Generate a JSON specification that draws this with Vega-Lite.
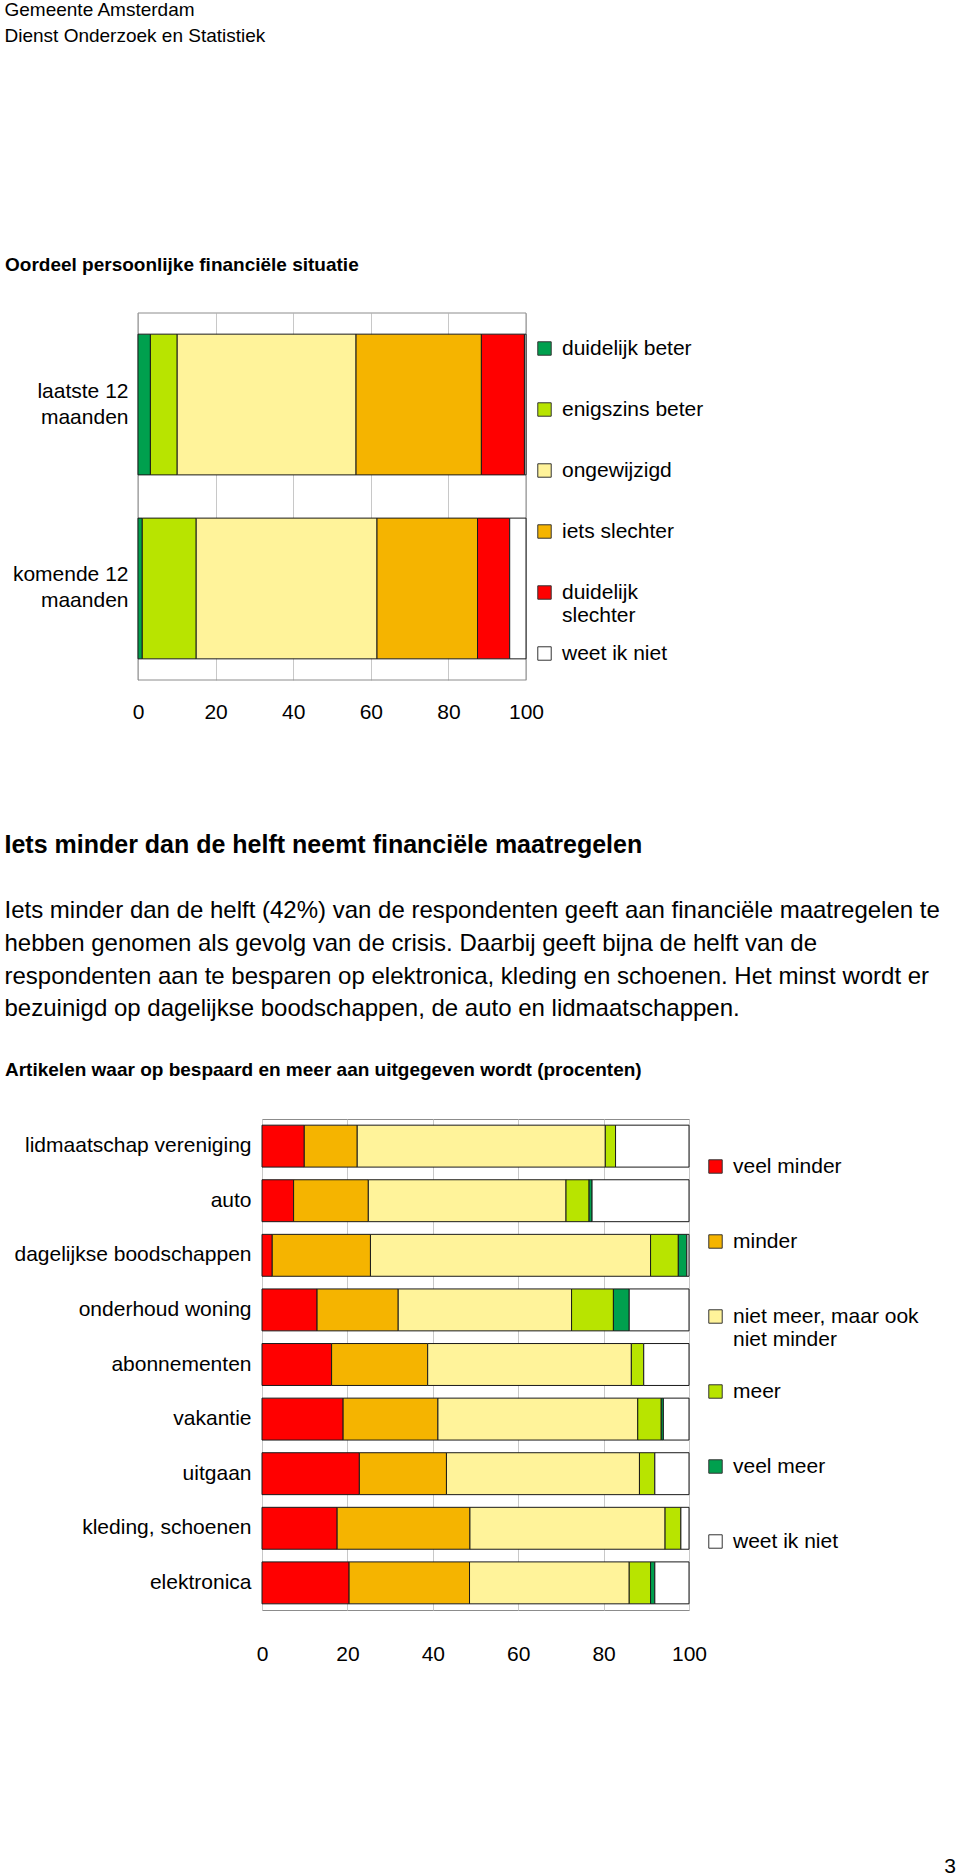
{
  "$schema": "https://vega.github.io/schema/vega-lite/v6.json",
  "padding": {"left": 4, "top": 0, "right": 0, "bottom": 0},
  "background": "white",
  "config": {
    "font": "Liberation Sans",
    "view": {"stroke": "#8c8c8c", "strokeWidth": 1},
    "axis": {"labelFont": "Liberation Sans", "labelFontSize": 21, "labelColor": "#000000", "ticks": false, "domain": false, "gridColor": "#c8c8c8", "gridWidth": 1, "title": null, "labelFlush": false, "labelOverlap": false},
    "legend": {"orient": "none", "title": null, "labelFont": "Liberation Sans", "labelFontSize": 21, "labelColor": "#000000", "symbolType": "square", "symbolSize": 180, "symbolStrokeColor": "#333333", "symbolStrokeWidth": 1, "labelOffset": 7, "padding": 0, "labelLimit": 400, "gridAlign": "all"},
    "title": {"anchor": "start", "font": "Liberation Sans", "color": "#000000", "frame": "bounds"},
    "concat": {"spacing": 0}
  },
  "title": {"text": ["Gemeente Amsterdam", "Dienst Onderzoek en Statistiek"], "fontSize": 19, "fontWeight": "normal", "lineHeight": 26, "offset": 210},
  "resolve": {"scale": {"color": "independent", "x": "independent", "y": "independent"}, "legend": {"color": "independent"}},
  "columns": 1,
  "spacing": {"row": 111, "column": 0},
  "concat": [
    {
      "title": {"text": "Oordeel persoonlijke financiële situatie", "fontSize": 19, "fontWeight": "bold", "offset": 38},
      "width": 264,
      "height": 367,
      "view": {"stroke": null},
      "data": {"values": [
        {"periode": "laatste 12 maanden", "oordeel": "duidelijk beter", "pct": 3.2},
        {"periode": "laatste 12 maanden", "oordeel": "enigszins beter", "pct": 6.9},
        {"periode": "laatste 12 maanden", "oordeel": "ongewijzigd", "pct": 46.1},
        {"periode": "laatste 12 maanden", "oordeel": "iets slechter", "pct": 32.3},
        {"periode": "laatste 12 maanden", "oordeel": "duidelijk slechter", "pct": 11.1},
        {"periode": "laatste 12 maanden", "oordeel": "weet ik niet", "pct": 0.4},
        {"periode": "komende 12 maanden", "oordeel": "duidelijk beter", "pct": 1.1},
        {"periode": "komende 12 maanden", "oordeel": "enigszins beter", "pct": 13.9},
        {"periode": "komende 12 maanden", "oordeel": "ongewijzigd", "pct": 46.6},
        {"periode": "komende 12 maanden", "oordeel": "iets slechter", "pct": 25.9},
        {"periode": "komende 12 maanden", "oordeel": "duidelijk slechter", "pct": 8.3},
        {"periode": "komende 12 maanden", "oordeel": "weet ik niet", "pct": 4.2}
      ]},
      "layer": [
        {
          "data": {"values": [{"kader": "plot"}]},
          "mark": {"type": "rect", "fill": "#ffffff", "fillOpacity": 0, "stroke": "#8c8c8c", "strokeWidth": 1},
          "encoding": {
            "x": {"datum": 0, "type": "quantitative", "scale": {"domain": [0, 100], "nice": false, "range": [-124, 264]}},
            "x2": {"datum": 100}
          }
        },
        {
          "transform": [
            {"calculate": "indexof(['duidelijk beter', 'enigszins beter', 'ongewijzigd', 'iets slechter', 'duidelijk slechter', 'weet ik niet'], datum.oordeel)", "as": "volgorde"}
          ],
          "mark": {"type": "bar", "stroke": "#1a1a1a", "strokeWidth": 1},
          "encoding": {
            "y": {"field": "periode", "type": "nominal", "sort": ["laatste 12 maanden", "komende 12 maanden"],
                  "scale": {"paddingInner": 0.235, "paddingOuter": 0.115},
                  "axis": {"labelExpr": "[replace(datum.label, ' maanden', ''), 'maanden']", "labelAlign": "right", "labelPadding": 134, "labelOffset": -13, "labelLineHeight": 26, "minExtent": 257, "grid": false}},
            "x": {"field": "pct", "type": "quantitative", "stack": "zero",
                  "scale": {"domain": [0, 100], "nice": false, "range": [-124, 264]},
                  "axis": {"values": [0, 20, 40, 60, 80, 100], "grid": true, "labelPadding": 21}},
            "order": {"field": "volgorde", "type": "quantitative"},
            "color": {"field": "oordeel", "type": "nominal",
                      "scale": {"domain": ["duidelijk beter", "enigszins beter", "ongewijzigd", "iets slechter", "duidelijk slechter", "weet ik niet"],
                                "range": ["#00A04E", "#B8E400", "#FFF39A", "#F5B400", "#FF0000", "#FFFFFF"]},
                      "legend": {"legendX": 272, "legendY": 25, "rowPadding": 16,
                                 "labelExpr": "datum.label == 'duidelijk slechter' ? ['duidelijk', 'slechter'] : datum.label"}}
          }
        }
      ]
    },
    {
      "title": {"text": "Iets minder dan de helft neemt financiële maatregelen", "fontSize": 25, "fontWeight": "bold",
                "subtitle": ["Iets minder dan de helft (42%) van de respondenten geeft aan financiële maatregelen te", "hebben genomen als gevolg van de crisis. Daarbij geeft bijna de helft van de", "respondenten aan te besparen op elektronica, kleding en schoenen. Het minst wordt er", "bezuinigd op dagelijkse boodschappen, de auto en lidmaatschappen."],
                "subtitleFont": "Liberation Sans", "subtitleFontSize": 24, "subtitleLineHeight": 32.7, "subtitleColor": "#000000", "subtitlePadding": 41, "offset": 39},
      "resolve": {"scale": {"color": "independent"}, "legend": {"color": "independent"}},
      "vconcat": [
        {
          "title": {"text": "3", "orient": "bottom", "anchor": "end", "fontSize": 21, "fontWeight": "normal", "offset": 191, "dx": 37},
          "vconcat": [
            {
              "title": {"text": "Artikelen waar op bespaard en meer aan uitgegeven wordt (procenten)", "fontSize": 19, "fontWeight": "bold", "offset": 39},
              "width": 427,
              "height": 491,
              "data": {"values": [
                {"item": "lidmaatschap vereniging", "cat": "veel minder", "pct": 9.9},
                {"item": "lidmaatschap vereniging", "cat": "minder", "pct": 12.4},
                {"item": "lidmaatschap vereniging", "cat": "niet meer, maar ook niet minder", "pct": 58.1},
                {"item": "lidmaatschap vereniging", "cat": "meer", "pct": 2.4},
                {"item": "lidmaatschap vereniging", "cat": "weet  ik niet", "pct": 17.2},
                {"item": "auto", "cat": "veel minder", "pct": 7.4},
                {"item": "auto", "cat": "minder", "pct": 17.5},
                {"item": "auto", "cat": "niet meer, maar ook niet minder", "pct": 46.3},
                {"item": "auto", "cat": "meer", "pct": 5.4},
                {"item": "auto", "cat": "veel meer", "pct": 0.7},
                {"item": "auto", "cat": "weet  ik niet", "pct": 22.7},
                {"item": "dagelijkse boodschappen", "cat": "veel minder", "pct": 2.4},
                {"item": "dagelijkse boodschappen", "cat": "minder", "pct": 23.0},
                {"item": "dagelijkse boodschappen", "cat": "niet meer, maar ook niet minder", "pct": 65.6},
                {"item": "dagelijkse boodschappen", "cat": "meer", "pct": 6.5},
                {"item": "dagelijkse boodschappen", "cat": "veel meer", "pct": 2.0},
                {"item": "dagelijkse boodschappen", "cat": "weet  ik niet", "pct": 0.5},
                {"item": "onderhoud woning", "cat": "veel minder", "pct": 12.9},
                {"item": "onderhoud woning", "cat": "minder", "pct": 19.0},
                {"item": "onderhoud woning", "cat": "niet meer, maar ook niet minder", "pct": 40.6},
                {"item": "onderhoud woning", "cat": "meer", "pct": 9.8},
                {"item": "onderhoud woning", "cat": "veel meer", "pct": 3.7},
                {"item": "onderhoud woning", "cat": "weet  ik niet", "pct": 14.0},
                {"item": "abonnementen", "cat": "veel minder", "pct": 16.3},
                {"item": "abonnementen", "cat": "minder", "pct": 22.5},
                {"item": "abonnementen", "cat": "niet meer, maar ook niet minder", "pct": 47.7},
                {"item": "abonnementen", "cat": "meer", "pct": 2.9},
                {"item": "abonnementen", "cat": "weet  ik niet", "pct": 10.6},
                {"item": "vakantie", "cat": "veel minder", "pct": 19.0},
                {"item": "vakantie", "cat": "minder", "pct": 22.2},
                {"item": "vakantie", "cat": "niet meer, maar ook niet minder", "pct": 46.8},
                {"item": "vakantie", "cat": "meer", "pct": 5.5},
                {"item": "vakantie", "cat": "veel meer", "pct": 0.5},
                {"item": "vakantie", "cat": "weet  ik niet", "pct": 6.0},
                {"item": "uitgaan", "cat": "veel minder", "pct": 22.8},
                {"item": "uitgaan", "cat": "minder", "pct": 20.4},
                {"item": "uitgaan", "cat": "niet meer, maar ook niet minder", "pct": 45.2},
                {"item": "uitgaan", "cat": "meer", "pct": 3.6},
                {"item": "uitgaan", "cat": "weet  ik niet", "pct": 8.0},
                {"item": "kleding, schoenen", "cat": "veel minder", "pct": 17.6},
                {"item": "kleding, schoenen", "cat": "minder", "pct": 31.1},
                {"item": "kleding, schoenen", "cat": "niet meer, maar ook niet minder", "pct": 45.7},
                {"item": "kleding, schoenen", "cat": "meer", "pct": 3.7},
                {"item": "kleding, schoenen", "cat": "weet  ik niet", "pct": 1.9},
                {"item": "elektronica", "cat": "veel minder", "pct": 20.4},
                {"item": "elektronica", "cat": "minder", "pct": 28.2},
                {"item": "elektronica", "cat": "niet meer, maar ook niet minder", "pct": 37.4},
                {"item": "elektronica", "cat": "meer", "pct": 5.0},
                {"item": "elektronica", "cat": "veel meer", "pct": 1.0},
                {"item": "elektronica", "cat": "weet  ik niet", "pct": 8.0}
              ]},
              "transform": [
                {"calculate": "indexof(['veel minder', 'minder', 'niet meer, maar ook niet minder', 'meer', 'veel meer', 'weet  ik niet'], datum.cat)", "as": "volgorde"}
              ],
              "mark": {"type": "bar", "stroke": "#1a1a1a", "strokeWidth": 1},
              "encoding": {
                "y": {"field": "item", "type": "nominal",
                      "sort": ["lidmaatschap vereniging", "auto", "dagelijkse boodschappen", "onderhoud woning", "abonnementen", "vakantie", "uitgaan", "kleding, schoenen", "elektronica"],
                      "scale": {"paddingInner": 0.232, "paddingOuter": 0.113},
                      "axis": {"labelPadding": 11, "minExtent": 257, "grid": false, "labelLimit": 300}},
                "x": {"field": "pct", "type": "quantitative", "stack": "zero",
                      "scale": {"domain": [0, 100], "nice": false},
                      "axis": {"values": [0, 20, 40, 60, 80, 100], "grid": true, "labelPadding": 33}},
                "order": {"field": "volgorde", "type": "quantitative"},
                "color": {"field": "cat", "type": "nominal",
                          "scale": {"domain": ["veel minder", "minder", "niet meer, maar ook niet minder", "meer", "veel meer", "weet  ik niet"],
                                    "range": ["#FF0000", "#F5B400", "#FFF39A", "#B8E400", "#00A04E", "#FFFFFF"]},
                          "legend": {"legendX": 443, "legendY": 37, "rowPadding": 30,
                                     "labelExpr": "datum.label == 'niet meer, maar ook niet minder' ? ['niet meer, maar ook', 'niet minder'] : datum.label"}}
              }
            }
          ]
        }
      ]
    }
  ]
}
